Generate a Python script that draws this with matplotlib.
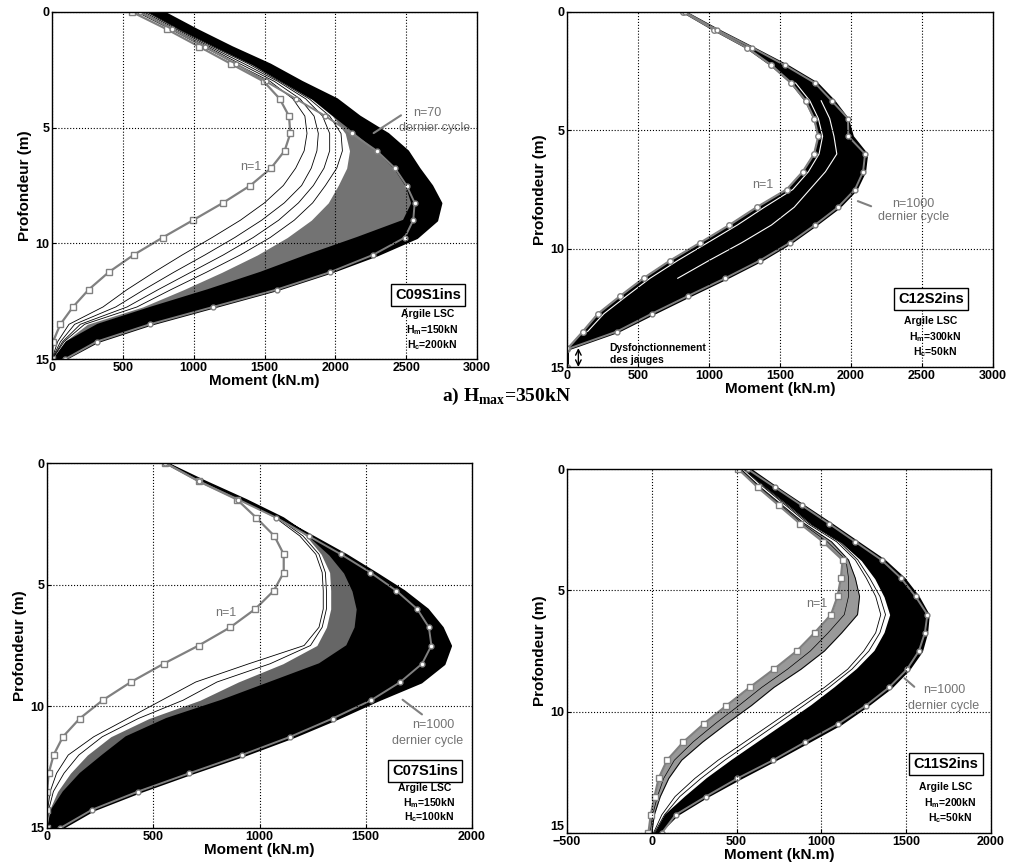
import numpy as np
import matplotlib
matplotlib.use("Agg")
import matplotlib.pyplot as plt

plt.rcParams['font.family'] = ['Liberation Sans', 'DejaVu Sans']
plt.rcParams['mathtext.fontset'] = 'custom'
plt.rcParams['mathtext.sf'] = 'Liberation Sans:bold'
plt.rcParams['mathtext.rm'] = 'Liberation Serif:bold'

nan = np.nan

# depth of the gauges (m)
depth = [0, 0.75, 1.5, 2.25, 3, 3.75, 4.5, 5.25, 6, 6.75, 7.5,
         8.25, 9, 9.75, 10.5, 11.25, 12, 12.75, 13.5, 14.25, 15]

# --- C09S1ins (Hm=150kN, Hc=200kN), moments in kN.m
c09_n1 = [565, 812, 1040, 1266, 1494, 1607, 1673, 1682, 1642, 1546, 1400,
          1207, 995, 781, 576, 400, 259, 148, 59, 7, 0]
c09_fam = [
    [600, 840, 1070, 1300, 1540, 1700, 1785, 1800, 1780, 1720, 1633,
     1500, 1330, 1130, 920, 720, 530, 360, 120, 40, 0],
    [630, 860, 1095, 1330, 1570, 1750, 1850, 1880, 1870, 1830, 1762,
     1640, 1480, 1290, 1080, 860, 650, 450, 160, 60, 0],
    [650, 880, 1115, 1360, 1595, 1790, 1910, 1960, 1960, 1920, 1845,
     1740, 1600, 1420, 1210, 980, 750, 530, 200, 75, 2],
    [670, 895, 1135, 1390, 1610, 1815, 1960, 2040, 2050, 2010, 1930,
     1840, 1710, 1540, 1330, 1090, 840, 600, 230, 85, 3],
]
c09_gray = [680, 905, 1150, 1405, 1620, 1830, 1980, 2070, 2100, 2080, 2020,
            1950, 1830, 1660, 1450, 1200, 930, 640, 250, 90, 5]
c09_dense = [692, 915, 1162, 1420, 1631, 1843, 1995, 2150, 2300, 2420, 2500,
             2540, 2480, 2150, 1800, 1470, 1100, 700, 320, 100, 10]
c09_env = [790, 1021, 1268, 1538, 1762, 2009, 2170, 2370, 2510, 2590, 2680,
           2745, 2715, 2574, 2294, 1965, 1588, 1141, 694, 318, 90]
c09_last = [620, 850, 1080, 1300, 1510, 1720, 1930, 2115, 2292, 2421, 2503,
            2560, 2550, 2490, 2266, 1962, 1586, 1137, 690, 315, 94]

# --- C12S2ins (Hm=300kN, Hc=50kN)
c12_n1 = [820, 1035, 1265, 1440, 1580, 1680, 1740, 1770, 1740, 1660, 1547,
          1336, 1144, 938, 727, 539, 375, 218, 112, 0, 0]
c12_env = [835, 1065, 1310, 1550, 1760, 1880, 1975, 2010, 2110, 2095, 2035,
           1915, 1750, 1575, 1365, 1120, 860, 605, 355, 0, 0]
c12_last = [830, 1055, 1301, 1535, 1746, 1864, 1979, 1981, 2099, 2085, 2028,
            1908, 1746, 1570, 1359, 1113, 852, 596, 352, 0, 0]
c12_white = [
    [nan, nan, nan, nan, 1610, 1710, 1770, 1800, 1775, 1700, 1590,
     1390, 1200, 990, 780, 585, 420, 260, 145, nan, nan],
    [nan, nan, nan, nan, nan, 1790, 1850, 1880, 1900, 1820, 1710,
     1600, 1440, 1230, 1000, 780, nan, nan, nan, nan, nan],
]

# --- C07S1ins (Hm=150kN, Hc=100kN)
c07_n1 = [557, 714, 894, 985, 1070, 1114, 1114, 1067, 980, 863, 714,
          549, 395, 262, 154, 75, 31, 8, 0, 0, 0]
c07_fam = [
    [558, 725, 915, 1075, 1190, 1265, 1295, 1300, 1300, 1280, 1210,
     950, 700, 540, 380, 220, 100, 45, 15, 3, 0],
    [559, 730, 920, 1085, 1205, 1280, 1310, 1315, 1315, 1295, 1240,
     1050, 800, 640, 430, 260, 150, 80, 30, 8, 0],
]
c07_gray = [560, 740, 930, 1100, 1220, 1290, 1330, 1335, 1335, 1315, 1270,
            1110, 900, 720, 480, 300, 190, 110, 50, 12, 1]
c07_dense = [565, 745, 935, 1110, 1235, 1330, 1400, 1440, 1460, 1450, 1410,
             1280, 1050, 820, 560, 370, 260, 155, 76, 20, 3]
c07_env = [560, 725, 915, 1095, 1250, 1405, 1545, 1680, 1790, 1860, 1899,
           1868, 1760, 1555, 1365, 1160, 930, 680, 440, 220, 70]
c07_last = [557, 714, 900, 1079, 1231, 1383, 1522, 1644, 1742, 1797, 1809,
            1765, 1663, 1525, 1344, 1145, 917, 670, 429, 212, 63]

# --- C11S2ins (Hm=200kN, Hc=50kN)
c11_n1 = [510, 624, 749, 874, 1010, 1125, 1115, 1095, 1057, 960, 855,
          720, 577, 440, 307, 186, 90, 40, 16, -6, -20]
c11_mid = [518, 632, 760, 887, 1035, 1145, 1160, 1160, 1135, 1040, 935,
           800, 648, 513, 373, 243, 133, 70, 33, 5, -10]
c11_bundle = [525, 640, 770, 900, 1060, 1160, 1200, 1225, 1213, 1120, 1018,
              880, 720, 587, 440, 300, 176, 100, 50, 15, 0]
c11_fam = [
    [540, 660, 790, 920, 1090, 1200, 1265, 1320, 1350, 1320, 1250,
     1155, 1018, 861, 705, 548, 391, 254, 137, 59, 10],
    [545, 668, 800, 932, 1105, 1215, 1285, 1345, 1378, 1345, 1280,
     1180, 1045, 895, 740, 585, 430, 290, 165, 75, 15],
]
c11_dense = [550, 680, 815, 945, 1120, 1240, 1320, 1375, 1409, 1375, 1315,
             1210, 1080, 940, 785, 628, 472, 325, 198, 80, 20]
c11_env = [580, 734, 895, 1057, 1213, 1370, 1487, 1570, 1630, 1620, 1590,
           1515, 1410, 1270, 1115, 920, 724, 519, 323, 147, 40]
c11_last = [565, 725, 885, 1045, 1200, 1355, 1470, 1555, 1625, 1610, 1575,
            1505, 1399, 1262, 1100, 905, 715, 505, 318, 140, 59]

W, H = 1015, 868
GRAY = '0.5'


def fxy(x, y):
    return x / W, 1 - y / H


def make_axes(fig, box, xlim, xticks):
    l, t, r, b = box
    ax = fig.add_axes([l / W, 1 - b / H, (r - l) / W, (b - t) / H])
    ax.set_xlim(*xlim)
    ax.set_ylim(15, 0)
    ax.set_xticks(xticks)
    ax.set_yticks([0, 5, 10, 15])
    ax.grid(True, color='k', ls=':', lw=0.8)
    ax.set_axisbelow(False)
    ax.tick_params(direction='in', length=3, labelsize=9, pad=2)
    for lab in ax.get_xticklabels() + ax.get_yticklabels():
        lab.set_fontweight('bold')
    for s in ax.spines.values():
        s.set_linewidth(1.0)
    ax.set_xlabel('Moment (kN.m)', fontsize=11, fontweight='bold', labelpad=0)
    ax.set_ylabel('Profondeur (m)', fontsize=11, fontweight='bold', labelpad=2)
    return ax


def draw_family(ax, n1, env, last, dense, gray=None, fam=(), white=(),
                n1_marker='s', mid=None, bundle=None, gray_col='0.4'):
    if bundle is not None:
        ax.fill_betweenx(depth, n1, bundle, color='0.6', lw=0)
        ax.plot(bundle, depth, color='k', lw=0.7)
        ax.plot(mid, depth, color='k', lw=0.5)
    if gray is not None:
        ax.fill_betweenx(depth, gray, dense, color=gray_col, lw=0)
    for f in fam:
        ax.plot(f, depth, color='k', lw=0.6)
    ax.fill_betweenx(depth, dense, env, color='k', lw=1.5, edgecolor='k')
    for w in white:
        ax.plot(w, depth, color='w', lw=0.8)
    ax.plot(n1, depth, color=GRAY, lw=1.6, marker=n1_marker, ms=4,
            mfc='w', mec=GRAY, mew=1)
    ax.plot(last, depth, color=GRAY, lw=1.4, marker='o', ms=3.5,
            mfc='w', mec=GRAY, mew=1)


def label_box(fig, x, y, name, hm, hc, dy):
    fig.text(*fxy(x, y), name, ha='center', va='center', fontsize=10.5,
             fontweight='bold',
             bbox=dict(boxstyle='square,pad=0.3', fc='w', ec='k', lw=1))
    fig.text(*fxy(x, y + dy[0]), 'Argile LSC', ha='center', va='center',
             fontsize=7.5, fontweight='bold')
    fig.text(*fxy(x + 4, y + dy[1]), r'H$_{\mathsf{m}}$=' + hm, ha='center',
             va='center', fontsize=7.5, fontweight='bold')
    fig.text(*fxy(x + 4, y + dy[2]), r'H$_{\mathsf{c}}$=' + hc, ha='center',
             va='center', fontsize=7.5, fontweight='bold')


def main():
    fig = plt.figure(figsize=(W / 100, H / 100), dpi=100)
    note = dict(color='0.45', fontsize=9, ha='center', va='center')

    # top left
    ax = make_axes(fig, (52, 12, 477, 359), (0, 3000), range(0, 3001, 500))
    draw_family(ax, c09_n1, c09_env, c09_last, c09_dense, gray=c09_gray,
                fam=c09_fam, gray_col='0.45')
    ax.text(1400, 6.68, 'n=1', **note)
    ax.text(2650, 4.36, 'n=70', **note)
    ax.text(2700, 5.0, 'dernier cycle', **note)
    ax.annotate('', xy=(2254, 5.3), xytext=(2480, 4.4),
                arrowprops=dict(arrowstyle='-', color=GRAY, lw=1.5))
    label_box(fig, 428, 295, 'C09S1ins', '150kN', '200kN', (19, 35, 50))

    # top right
    ax = make_axes(fig, (567, 12, 993, 367), (0, 3000), range(0, 3001, 500))
    draw_family(ax, c12_n1, c12_env, c12_last, c12_n1, white=c12_white,
                n1_marker='o')
    ax.plot([0, 0], [14.2, 15], ls='none', marker='o', ms=3.5, mfc='w',
            mec=GRAY)
    ax.annotate('', xy=(80, 15), xytext=(80, 14.2),
                arrowprops=dict(arrowstyle='<->', color='k', lw=1,
                                shrinkA=0, shrinkB=0))
    ax.text(300, 14.2, 'Dysfonctionnement', fontsize=7.5, fontweight='bold',
            va='center')
    ax.text(300, 14.72, 'des jauges', fontsize=7.5, fontweight='bold',
            va='center')
    ax.text(1380, 7.3, 'n=1', **note)
    ax.text(2440, 8.1, 'n=1000', **note)
    ax.text(2440, 8.66, 'dernier cycle', **note)
    ax.annotate('', xy=(2030, 7.95), xytext=(2160, 8.25),
                arrowprops=dict(arrowstyle='-', color=GRAY, lw=1.5))
    label_box(fig, 931, 299, 'C12S2ins', '300kN', '50kN', (22, 38, 53))

    fig.text(*fxy(507, 396), r'a) H$_{\mathrm{max}}$=350kN',
             ha='center', va='center', fontsize=14, fontweight='bold',
             family='Liberation Serif')

    # bottom left
    ax = make_axes(fig, (47, 463, 472, 828), (0, 2000), range(0, 2001, 500))
    draw_family(ax, c07_n1, c07_env, c07_last, c07_dense, gray=c07_gray,
                fam=c07_fam)
    ax.text(840, 6.16, 'n=1', **note)
    ax.text(1820, 10.75, 'n=1000', **note)
    ax.text(1790, 11.44, 'dernier cycle', **note)
    ax.annotate('', xy=(1663, 9.66), xytext=(1775, 10.4),
                arrowprops=dict(arrowstyle='-', color=GRAY, lw=1.5))
    label_box(fig, 425, 771, 'C07S1ins', '150kN', '100kN', (17, 32, 46))

    # bottom right
    ax = make_axes(fig, (567, 469, 991, 833), (-500, 2000),
                   range(-500, 2001, 500))
    draw_family(ax, c11_n1, c11_env, c11_last, c11_dense, fam=c11_fam,
                mid=c11_mid, bundle=c11_bundle)
    ax.get_yticklabels()[-1].set_va('bottom')
    ax.text(970, 5.55, 'n=1', **note)
    ax.text(1722, 9.1, 'n=1000', **note)
    ax.text(1722, 9.76, 'dernier cycle', **note)
    ax.annotate('', xy=(1478, 8.55), xytext=(1560, 9.05),
                arrowprops=dict(arrowstyle='-', color=GRAY, lw=1.5))
    label_box(fig, 946, 764, 'C11S2ins', '200kN', '50kN', (23, 39, 54))

    fig.savefig('out.png', dpi=100)


if __name__ == "__main__":
    main()
